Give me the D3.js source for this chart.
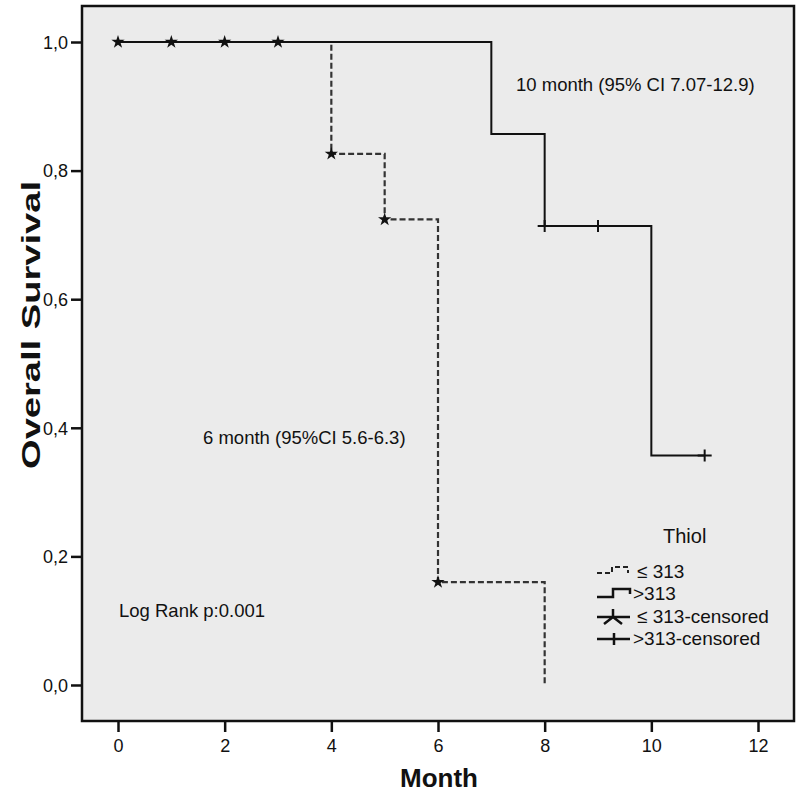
<!DOCTYPE html>
<html>
<head>
<meta charset="utf-8">
<script src="https://cdn.jsdelivr.net/npm/d3@7"></script>
<style>
  body { margin: 0; background: #fff; }
  svg { display: block; font-family: "Liberation Sans", Arial, sans-serif; }
</style>
</head>
<body>
<svg id="kmSvg" width="800" height="801"></svg>
<script>
// x axis ticks (months) and y axis ticks (survival)
const monthTicks = [0, 2, 4, 6, 8, 10, 12];
const survTicks = [0, 0.2, 0.4, 0.6, 0.8, 1.0];

// Thiol <= 313 (dashed)
const lowTimes = [0, 4, 5, 6, 8];
const lowSurv = [1.0, 0.826, 0.724, 0.16, 0.0];
const lowCensTimes = [0, 1, 2, 3, 4, 5, 6];
const lowCensSurv = [1.0, 1.0, 1.0, 1.0, 0.826, 0.724, 0.16];

// Thiol > 313 (solid)
const highTimes = [0, 7, 8, 10, 11];
const highSurv = [1.0, 0.857, 0.714, 0.357, 0.357];
const highCensTimes = [8, 9, 11];
const highCensSurv = [0.714, 0.714, 0.357];

const legendLabels = ["\u2264 313", ">313", "\u2264 313-censored", ">313-censored"];

const svg = d3.select("#kmSvg");

const frame = { left: 82, top: 6, right: 794, bottom: 721 };

const x = d3.scaleLinear().domain([-0.675, 12.675]).range([frame.left, frame.right]);
const y = d3.scaleLinear().domain([-0.056, 1.056]).range([frame.bottom, frame.top]);

// plot background
svg.append("rect")
  .attr("x", frame.left)
  .attr("y", frame.top)
  .attr("width", frame.right - frame.left)
  .attr("height", frame.bottom - frame.top)
  .attr("fill", "#ebebeb");

// axes
const xAxis = d3.axisBottom(x)
  .tickValues(monthTicks)
  .tickSize(11)
  .tickPadding(4)
  .tickFormat(d3.format("d"));

const yAxis = d3.axisLeft(y)
  .tickValues(survTicks)
  .tickSize(11)
  .tickPadding(3)
  .tickFormat((d) => d3.format(".1f")(d).replace(".", ","));

const gx = svg.append("g")
  .attr("transform", `translate(0, ${frame.bottom})`)
  .call(xAxis);
const gy = svg.append("g")
  .attr("transform", `translate(${frame.left}, 0)`)
  .call(yAxis);

[gx, gy].forEach((g) => {
  g.select(".domain").remove();
  g.selectAll(".tick line").attr("stroke", "#111").attr("stroke-width", 2.5);
  g.selectAll(".tick text")
    .attr("fill", "#111")
    .style("font-size", "18px")
    .style("font-family", "Liberation Sans, Arial, sans-serif");
});
gx.selectAll(".tick text").attr("dy", "0.9em");
gy.selectAll(".tick text").attr("dy", "0.35em");

// frame border
svg.append("rect")
  .attr("x", frame.left)
  .attr("y", frame.top)
  .attr("width", frame.right - frame.left)
  .attr("height", frame.bottom - frame.top)
  .attr("fill", "none")
  .attr("stroke", "#111")
  .attr("stroke-width", 2.5);

// step curves
const stepLine = d3.line()
  .x((d) => x(d[0]))
  .y((d) => y(d[1]))
  .curve(d3.curveStepAfter);

const lowData = lowTimes.map((t, i) => [t, lowSurv[i]]);
const highData = highTimes.map((t, i) => [t, highSurv[i]]);

svg.append("path")
  .datum(lowData)
  .attr("d", stepLine)
  .attr("fill", "none")
  .attr("stroke", "#333")
  .attr("stroke-width", 2.2)
  .attr("stroke-dasharray", "6,3");

svg.append("path")
  .datum(highData)
  .attr("d", stepLine)
  .attr("fill", "none")
  .attr("stroke", "#111")
  .attr("stroke-width", 2);

// censored markers
const star = d3.symbol().type(d3.symbolStar).size(55);
svg.selectAll(".cens-low")
  .data(lowCensTimes.map((t, i) => [t, lowCensSurv[i]]))
  .enter()
  .append("path")
  .attr("class", "cens-low")
  .attr("d", star)
  .attr("transform", (d) => `translate(${x(d[0])}, ${y(d[1])})`)
  .attr("fill", "#111");

const plusPath = "M-7,0H7M0,-6V6";
svg.selectAll(".cens-high")
  .data(highCensTimes.map((t, i) => [t, highCensSurv[i]]))
  .enter()
  .append("path")
  .attr("class", "cens-high")
  .attr("d", plusPath)
  .attr("transform", (d) => `translate(${x(d[0])}, ${y(d[1])})`)
  .attr("stroke", "#111")
  .attr("stroke-width", 2);

// annotations
const notes = [
  { text: "10 month (95% CI 7.07-12.9)", x: 516, y: 91 },
  { text: "6 month (95%CI 5.6-6.3)", x: 203, y: 444 },
  { text: "Log Rank p:0.001", x: 119, y: 617 }
];
svg.selectAll(".note")
  .data(notes)
  .enter()
  .append("text")
  .attr("class", "note")
  .attr("x", (d) => d.x)
  .attr("y", (d) => d.y)
  .attr("font-size", 18.5)
  .attr("fill", "#111")
  .text((d) => d.text);

// axis titles
svg.append("text")
  .attr("x", 439)
  .attr("y", 787)
  .attr("text-anchor", "middle")
  .attr("font-size", 26)
  .attr("font-weight", "bold")
  .attr("fill", "#111")
  .text("Month");

svg.append("text")
  .attr("transform", "translate(40, 325) rotate(-90)")
  .attr("text-anchor", "middle")
  .attr("font-size", 26)
  .attr("font-weight", "bold")
  .attr("fill", "#111")
  .attr("textLength", 288)
  .attr("lengthAdjust", "spacingAndGlyphs")
  .text("Overall Survival");

// legend
const legend = svg.append("g").attr("transform", "translate(597, 0)");
legend.append("text")
  .attr("x", 66)
  .attr("y", 543)
  .attr("font-size", 20)
  .attr("fill", "#111")
  .text("Thiol");

const legendY = [572, 594, 617, 639];
const legendRows = legend.selectAll(".legend")
  .data(legendLabels)
  .enter()
  .append("g")
  .attr("class", "legend")
  .attr("transform", (d, i) => `translate(0, ${legendY[i]})`);

legendRows.append("text")
  .attr("x", (d, i) => (i % 2 === 0 ? 40 : 36))
  .attr("y", 6)
  .attr("font-size", 19)
  .attr("fill", "#111")
  .text((d) => d);

// symbols
legendRows.filter((d, i) => i === 0).append("path")
  .attr("d", "M0,1H15V-5H31V1")
  .attr("fill", "none")
  .attr("stroke", "#222")
  .attr("stroke-width", 2)
  .attr("stroke-dasharray", "5,3");

legendRows.filter((d, i) => i === 1).append("path")
  .attr("d", "M0,3H16V-5H33V0")
  .attr("fill", "none")
  .attr("stroke", "#111")
  .attr("stroke-width", 2.5);

legendRows.filter((d, i) => i === 2).append("path")
  .attr("d", "M0,0H33M16,0V-8M16,0L7,7M16,0L25,7")
  .attr("fill", "none")
  .attr("stroke", "#111")
  .attr("stroke-width", 2.5);

legendRows.filter((d, i) => i === 3).append("path")
  .attr("d", "M0,0H33M17,-6V6")
  .attr("fill", "none")
  .attr("stroke", "#111")
  .attr("stroke-width", 2.5);
</script>
</body>
</html>
